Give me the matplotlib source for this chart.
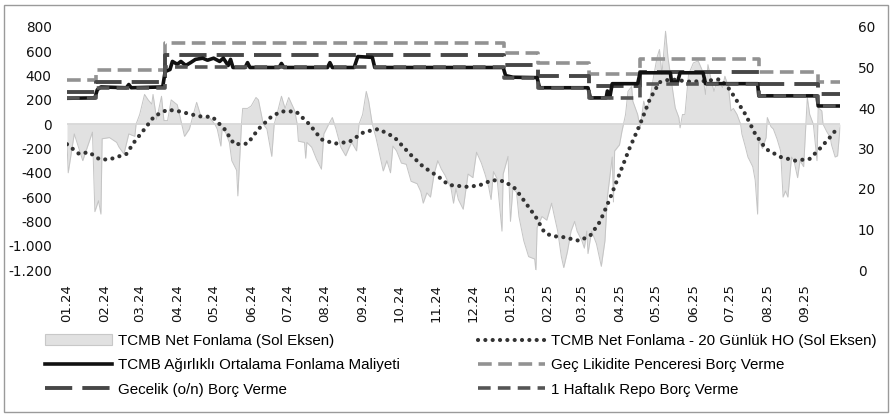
import matplotlib
matplotlib.use("Agg")
import matplotlib.pyplot as plt
import matplotlib.dates as mdates
import matplotlib.ticker as mticker
from matplotlib.patches import Rectangle, Patch
from matplotlib.lines import Line2D
import pandas as pd

# TCMB net fonlama (milyar TL, sol eksen)
net_dates = ['2024-01-01', '2024-01-02', '2024-01-07', '2024-01-14', '2024-01-22', '2024-01-24', '2024-01-27',
             '2024-01-29', '2024-01-30', '2024-02-05', '2024-02-11', '2024-02-13', '2024-02-17', '2024-02-21',
             '2024-02-26', '2024-02-27', '2024-03-01', '2024-03-05', '2024-03-08', '2024-03-11', '2024-03-12',
             '2024-03-15', '2024-03-19', '2024-03-21', '2024-03-24', '2024-03-27', '2024-04-01', '2024-04-07',
             '2024-04-11', '2024-04-17', '2024-04-21', '2024-04-28', '2024-05-02', '2024-05-04', '2024-05-07',
             '2024-05-08', '2024-05-11', '2024-05-14', '2024-05-16', '2024-05-20', '2024-05-21', '2024-05-24',
             '2024-05-25', '2024-05-29', '2024-06-01', '2024-06-05', '2024-06-07', '2024-06-11', '2024-06-14',
             '2024-06-18', '2024-06-20', '2024-06-22', '2024-06-26', '2024-06-29', '2024-07-02', '2024-07-07',
             '2024-07-09', '2024-07-10', '2024-07-15', '2024-07-16', '2024-07-17', '2024-07-21', '2024-07-25',
             '2024-07-27', '2024-07-29', '2024-07-31', '2024-08-04', '2024-08-07', '2024-08-10', '2024-08-14',
             '2024-08-18', '2024-08-21', '2024-08-23', '2024-08-27', '2024-08-29', '2024-09-01', '2024-09-04',
             '2024-09-06', '2024-09-09', '2024-09-12', '2024-09-14', '2024-09-18', '2024-09-21', '2024-09-24',
             '2024-09-26', '2024-09-29', '2024-10-03', '2024-10-07', '2024-10-11', '2024-10-16', '2024-10-19',
             '2024-10-21', '2024-10-24', '2024-10-27', '2024-10-30', '2024-11-02', '2024-11-05', '2024-11-08',
             '2024-11-13', '2024-11-15', '2024-11-17', '2024-11-19', '2024-11-23', '2024-11-27', '2024-12-01',
             '2024-12-04', '2024-12-08', '2024-12-11', '2024-12-14', '2024-12-16', '2024-12-18', '2024-12-21',
             '2024-12-25', '2024-12-26', '2024-12-30', '2025-01-01', '2025-01-03', '2025-01-06', '2025-01-08',
             '2025-01-12', '2025-01-16', '2025-01-21', '2025-01-22', '2025-01-23', '2025-01-27', '2025-01-31',
             '2025-02-04', '2025-02-06', '2025-02-09', '2025-02-12', '2025-02-14', '2025-02-17', '2025-02-20',
             '2025-02-23', '2025-02-25', '2025-03-01', '2025-03-03', '2025-03-05', '2025-03-06', '2025-03-09',
             '2025-03-13', '2025-03-17', '2025-03-20', '2025-03-22', '2025-03-26', '2025-03-27', '2025-03-28',
             '2025-04-01', '2025-04-03', '2025-04-06', '2025-04-08', '2025-04-11', '2025-04-12', '2025-04-16',
             '2025-04-18', '2025-04-21', '2025-04-23', '2025-04-26', '2025-04-29', '2025-05-02', '2025-05-04',
             '2025-05-06', '2025-05-09', '2025-05-11', '2025-05-15', '2025-05-17', '2025-05-20', '2025-05-21',
             '2025-05-23', '2025-05-25', '2025-05-28', '2025-06-01', '2025-06-05', '2025-06-08', '2025-06-11',
             '2025-06-13', '2025-06-16', '2025-06-18', '2025-06-21', '2025-06-25', '2025-06-27', '2025-06-30',
             '2025-07-02', '2025-07-04', '2025-07-07', '2025-07-10', '2025-07-11', '2025-07-14', '2025-07-16',
             '2025-07-20', '2025-07-22', '2025-07-24', '2025-07-25', '2025-07-28', '2025-07-31', '2025-08-01',
             '2025-08-04', '2025-08-06', '2025-08-09', '2025-08-12', '2025-08-14', '2025-08-16', '2025-08-18',
             '2025-08-21', '2025-08-23', '2025-08-26', '2025-08-28', '2025-08-31', '2025-09-03', '2025-09-05',
             '2025-09-08', '2025-09-11', '2025-09-12', '2025-09-15', '2025-09-16', '2025-09-19', '2025-09-22',
             '2025-09-23', '2025-09-26', '2025-09-28', '2025-09-30']
net_vals = [-150, -400, -80, -300, -65, -720, -630,
            -740, -120, -110, -150, -190, -245, -80,
            -100, 0, 80, 245, 200, 165, 245,
            40, 230, 30, 30, 200, 160, -100,
            -40, 180, 50, 50, 0, -40, -180,
            -40, -70, -150, -300, -380, -590, 0,
            130, 130, 150, 220, 200, 0, -40,
            -265, 0, 70, 230, 130, 220, 110,
            0, -140, -150, -280, -150, -190, -290,
            -330, -370, -80, 0, 55, -40, -190,
            -260, -190, -150, -220, 0, 80, 270,
            190, 0, -110, -200, -385, -300, -400,
            -180, -220, -320, -330, -470, -490, -555,
            -650, -565, -600, -410, -300, -370, -420,
            -530, -650, -530, -620, -700, -410, -440,
            -230, -320, -410, -515, -620, -390, -450,
            -880, -410, -265, -800, -530, -560, -760,
            -960, -1090, -1110, -1210, -850, -760, -790,
            -650, -745, -880, -1090, -1180, -1050, -880,
            -800, -880, -960, -1020, -880, -1065, -880,
            -985, -1170, -960, -600, -270, -640, -220,
            -170, -60, 80, 270, 310, 190, 80,
            -30, 190, 110, 200, 385, 550, 615,
            410, 765, 550, 270, 135, 55, -30,
            80, 80, 410, 505, 520, 450, 245,
            490, 350, 270, 380, 300, 395, 300,
            110, 130, 80, 0, -80, -190, -270,
            -350, -460, -740, -135, -200, -110, 55,
            -20, -40, -120, -220, -600, -550, -600,
            -270, -300, -440, -300, -350, 220, 80,
            0, -300, 135, 110, 0, -60, -110,
            -170, -270, -260, -30]

# 20 günlük hareketli ortalama (sol eksen)
ma_dates = ['2024-01-01', '2024-01-11', '2024-01-19', '2024-01-28', '2024-02-05', '2024-02-19', '2024-02-26',
            '2024-03-05', '2024-03-13', '2024-03-24', '2024-04-03', '2024-04-19', '2024-04-30', '2024-05-10',
            '2024-05-18', '2024-05-29', '2024-06-07', '2024-06-18', '2024-06-26', '2024-07-08', '2024-07-19',
            '2024-07-29', '2024-08-09', '2024-08-21', '2024-09-02', '2024-09-14', '2024-09-27', '2024-10-10',
            '2024-10-21', '2024-11-03', '2024-11-11', '2024-11-26', '2024-12-06', '2024-12-17', '2024-12-27',
            '2025-01-05', '2025-01-13', '2025-01-22', '2025-01-29', '2025-02-04', '2025-02-14', '2025-02-27',
            '2025-03-08', '2025-03-16', '2025-03-24', '2025-04-01', '2025-04-09', '2025-04-18', '2025-04-26',
            '2025-05-04', '2025-05-13', '2025-05-29', '2025-06-10', '2025-06-23', '2025-07-01', '2025-07-14',
            '2025-07-22', '2025-07-31', '2025-08-12', '2025-08-24', '2025-09-05', '2025-09-13', '2025-09-22',
            '2025-09-28']
ma_vals = [-165, -245, -230, -290, -290, -245, -140,
           -40, 65, 120, 105, 65, 60, -40,
           -165, -160, -40, 65, 105, 105, 0,
           -125, -160, -145, -65, -40, -105, -245,
           -350, -435, -500, -515, -505, -460, -470,
           -530, -640, -765, -890, -920, -930, -960,
           -915, -800, -615, -410, -205, 0, 205,
           345, 370, 350, 355, 370, 285, 80,
           -80, -205, -270, -300, -285, -205, -105,
           -30]

# TCMB ağırlıklı ortalama fonlama maliyeti (%, sağ eksen)
cost_dates = ['2024-01-01', '2024-01-24', '2024-01-26', '2024-01-29', '2024-02-19', '2024-02-21', '2024-02-23',
              '2024-03-20', '2024-03-22', '2024-03-26', '2024-03-28', '2024-04-01', '2024-04-04', '2024-04-08',
              '2024-04-12', '2024-04-16', '2024-04-22', '2024-04-26', '2024-05-01', '2024-05-06', '2024-05-09',
              '2024-05-13', '2024-05-15', '2024-05-17', '2024-05-27', '2024-05-29', '2024-05-31', '2024-06-24',
              '2024-06-26', '2024-06-28', '2024-08-03', '2024-08-05', '2024-08-07', '2024-08-25', '2024-08-28',
              '2024-09-09', '2024-09-11', '2024-12-26', '2024-12-28', '2025-01-03', '2025-01-23', '2025-01-25',
              '2025-03-06', '2025-03-08', '2025-03-21', '2025-03-22', '2025-03-24', '2025-03-26', '2025-04-16',
              '2025-04-18', '2025-05-13', '2025-05-14', '2025-05-19', '2025-05-21', '2025-06-09', '2025-06-11',
              '2025-07-24', '2025-07-25', '2025-09-11', '2025-09-12', '2025-09-30']
cost_vals = [42.4, 42.5, 44.5, 45.2, 45.0, 45.8, 45.0,
             45.2, 49.0, 49.5, 51.5, 50.8, 51.5, 50.5,
             51.2, 52.0, 52.3, 51.8, 52.3, 51.5, 52.3,
             50.5, 52.0, 50.0, 50.0, 51.2, 50.0, 50.0,
             51.0, 50.0, 50.0, 51.2, 50.0, 50.0, 52.7,
             52.5, 50.0, 50.0, 48.0, 47.6, 47.5, 45.0,
             45.0, 42.5, 42.5, 44.2, 42.6, 46.0, 46.0,
             48.7, 48.7, 46.3, 46.5, 48.7, 48.7, 46.0,
             46.0, 43.0, 43.0, 40.5, 40.5]

# faiz kararları (sağ eksen)
policy_dates = ['2024-01-01', '2024-01-25', '2024-03-22', '2024-12-27', '2025-01-24', '2025-03-07',
                '2025-04-18', '2025-07-25', '2025-09-12']
repo_vals = [42.5, 45.0, 50.0, 47.5, 45.0, 42.5, 46.0, 43.0, 40.5]
on_vals = [44.0, 46.5, 53.0, 50.5, 48.0, 45.5, 49.0, 46.0, 43.5]
llw_vals = [47.0, 49.5, 56.0, 53.5, 51.0, 48.5, 52.0, 49.0, 46.5]
end_date = '2025-09-30'

labels = ['TCMB Net Fonlama (Sol Eksen)', 'TCMB Net Fonlama - 20 Günlük HO (Sol Eksen)',
          'TCMB Ağırlıklı Ortalama Fonlama Maliyeti', 'Geç Likidite Penceresi Borç Verme',
          'Gecelik (o/n) Borç Verme', '1 Haftalık Repo Borç Verme']


def steps(vals):
    d = pd.to_datetime(policy_dates + [end_date])
    return d, list(vals) + [vals[-1]]


W, H = 893, 417
fig = plt.figure(figsize=(W / 100, H / 100), dpi=100)
ax = fig.add_axes([67 / W, 1 - 270 / H, (840 - 67) / W, 243 / H])

nd = pd.to_datetime(net_dates)
ax.fill_between(nd, net_vals, 0, color='#e1e1e1', lw=0, zorder=1)
ax.plot(nd, net_vals, color='#c4c4c4', lw=0.7, zorder=2)
ax.axhline(0, color='#d4d4d4', lw=1.2, zorder=2)
ma_style = dict(color='#333333', lw=3.0, linestyle=(0, (0.01, 1.75)), dash_capstyle='round')
ax.plot(pd.to_datetime(ma_dates), ma_vals, zorder=3, **ma_style)

ax.set_xlim(pd.Timestamp('2024-01-01'), pd.Timestamp(end_date))
ax.set_ylim(-1200, 800)
ax.set_yticks(range(-1200, 801, 200))
ax.yaxis.set_major_formatter(mticker.FuncFormatter(lambda v, p: f'{int(v):,}'.replace(',', '.')))
ax.xaxis.set_major_locator(mdates.MonthLocator())
ax.xaxis.set_major_formatter(mdates.DateFormatter('%m.%y'))
ax.tick_params(axis='y', length=0, pad=11, labelsize=9.8, colors='#111111')
ax.tick_params(axis='x', length=0, pad=10, labelsize=9.5, labelrotation=90, colors='#111111')

ax2 = ax.twinx()
llw_style = dict(color='#929292', lw=2.6, linestyle=(0, (3.8, 1.8)))
on_style = dict(color='#474747', lw=2.8, linestyle=(0, (7, 2.6)))
cost_style = dict(color='#111111', lw=2.6)
repo_style = dict(color='#555555', lw=2.6, linestyle=(0, (3.5, 2.0)))
d, v = steps(llw_vals)
ax2.plot(d, v, drawstyle='steps-post', **llw_style)
d, v = steps(on_vals)
ax2.plot(d, v, drawstyle='steps-post', **on_style)
ax2.plot(pd.to_datetime(cost_dates), cost_vals, **cost_style)
d, v = steps(repo_vals)
ax2.plot(d, v, drawstyle='steps-post', **repo_style)
ax2.set_ylim(0, 60)
ax2.set_yticks(range(0, 61, 10))
ax2.tick_params(axis='y', length=0, pad=13, labelsize=9.8, colors='#111111')

for a in (ax, ax2):
    for s in a.spines.values():
        s.set_visible(False)

h_area = Patch(facecolor='#e1e1e1', edgecolor='#c8c8c8', lw=0.8)
h_ma = Line2D([], [], **ma_style)
h_cost = Line2D([], [], **cost_style)
h_llw = Line2D([], [], **llw_style)
h_on = Line2D([], [], **on_style)
h_repo = Line2D([], [], **repo_style)

leg_font = {'family': ['Liberation Sans', 'DejaVu Sans'], 'size': 10.9}
kw = dict(loc='upper left', frameon=False, prop=leg_font, handlelength=4.4, handleheight=0.7,
          handletextpad=0.4, labelspacing=0.68, borderpad=0, borderaxespad=0)
fig.legend([h_area, h_cost, h_on], [labels[0], labels[2], labels[4]],
           bbox_to_anchor=(45 / W, 1 - 334 / H), **kw)
fig.legend([h_ma, h_llw, h_repo], [labels[1], labels[3], labels[5]],
           bbox_to_anchor=(478 / W, 1 - 334 / H), **kw)

fig.patches.append(Rectangle((4 / W, 5 / H), (888 - 4) / W, (412 - 5) / H, transform=fig.transFigure,
                             fill=False, edgecolor='#9a9a9a', lw=1))

fig.savefig('out.png', dpi=100)
